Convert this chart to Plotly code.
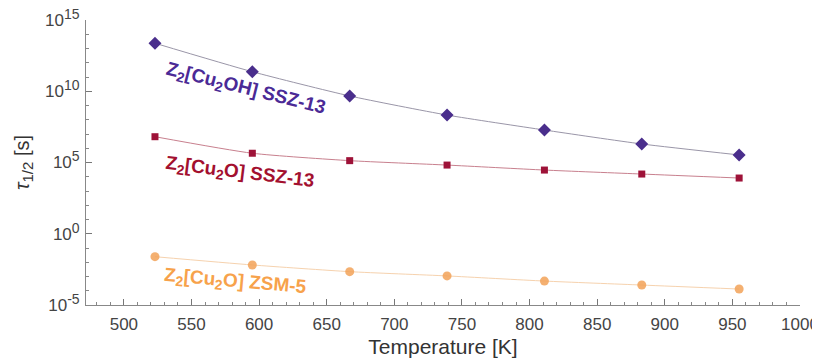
import plotly.graph_objects as go

temperature = [523, 595, 667, 739, 811, 883, 955]
tau_cu2oh_ssz13 = [10**13.37, 10**11.37, 10**9.67, 10**8.33, 10**7.28, 10**6.30, 10**5.53]
tau_cu2o_ssz13 = [10**6.81, 10**5.65, 10**5.13, 10**4.82, 10**4.47, 10**4.19, 10**3.91]
tau_cu2o_zsm5 = [10**-1.61, 10**-2.19, 10**-2.66, 10**-2.96, 10**-3.32, 10**-3.60, 10**-3.88]

x_ticks = [500, 550, 600, 650, 700, 750, 800, 850, 900, 950, 1000]
y_ticks = [1e-5, 1e0, 1e5, 1e10, 1e15]
y_exponents = ["-5", "0", "5", "10", "15"]
y_minor = [10.0**k for k in range(-5, 16)]

FONT = "Helvetica, Arial, Liberation Sans, sans-serif"

fig = go.Figure()

series = [
    (tau_cu2oh_ssz13, "diamond", 10, "#4A2E8C", "#9A96A8", 1.0),
    (tau_cu2o_ssz13, "square", 7, "#9E1238", "#C8808E", 1.0),
    (tau_cu2o_zsm5, "circle", 9, "#F2A258", "#F6D2AE", 0.85),
]
for ys, sym, size, mcol, lcol, op in series:
    fig.add_trace(go.Scatter(
        x=temperature, y=ys, mode="lines",
        line=dict(color=lcol, width=1, shape="spline", smoothing=0.6),
        showlegend=False, hoverinfo="skip"))
    fig.add_trace(go.Scatter(
        x=temperature, y=ys, mode="markers",
        marker=dict(symbol=sym, size=size, color=mcol, opacity=op, line=dict(width=0)),
        showlegend=False))

SUB = "<sub><span style='font-size:14px'>2</span></sub>"
labels = [
    ("Z" + SUB + "[Cu" + SUB + "OH] SSZ-13", 245, 89, 14, "#4B2A96"),
    ("Z" + SUB + "[Cu" + SUB + "O] SSZ-13", 240, 173, 7, "#A3102F"),
    ("Z" + SUB + "[Cu" + SUB + "O] ZSM-5", 235, 282, 5, "#F7A24B"),
]
for txt, px, py, ang, col in labels:
    fig.add_annotation(
        text="<b>" + txt + "</b>", xref="paper", yref="paper",
        x=(px - 86) / (800 - 86), y=(305 - py) / (305 - 20),
        xanchor="center", yanchor="middle", showarrow=False,
        textangle=ang, font=dict(family=FONT, size=19, color=col))

y_ticktext = ["10<sup><span style='font-size:14px'>%s</span></sup>" % e for e in y_exponents]

# page body adds an 8px offset, so the figure is sized/margined to compensate
fig.update_layout(
    width=812, height=350,
    margin=dict(l=78, r=20, t=12, b=53),
    paper_bgcolor="white", plot_bgcolor="white",
    font=dict(family=FONT, color="#444444"),
    xaxis=dict(
        range=[472, 1000], tickmode="array", tickvals=x_ticks, automargin=False,
        ticks="inside", ticklen=6, tickwidth=1, tickcolor="#777777",
        showline=True, linecolor="#888888", linewidth=1,
        showgrid=False, zeroline=False, ticklabelstandoff=4,
        ticklabeloverflow="allow",
        tickfont=dict(size=17, color="#444444"),
        minor=dict(dtick=10, tick0=500, ticks="inside", ticklen=3, tickcolor="#888888"),
        title=dict(text="Temperature [K]", font=dict(size=21, color="#333333"), standoff=6),
    ),
    yaxis=dict(
        type="log", range=[-5, 15], tickmode="array", tickvals=y_ticks, automargin=False,
        ticktext=y_ticktext,
        ticks="inside", ticklen=6, tickwidth=1, tickcolor="#777777",
        showline=True, linecolor="#888888", linewidth=1,
        showgrid=False, zeroline=False, ticklabelstandoff=2,
        ticklabeloverflow="allow",
        tickfont=dict(size=17, color="#444444"),
        minor=dict(tickmode="array", tickvals=y_minor, ticks="inside", ticklen=3, tickcolor="#888888"),
        title=dict(text="<i>τ</i><sub><span style='font-size:15px'>1/2</span></sub> [s]",
                   font=dict(size=20, color="#333333"), standoff=10),
    ),
)

fig.write_html("out.html")
